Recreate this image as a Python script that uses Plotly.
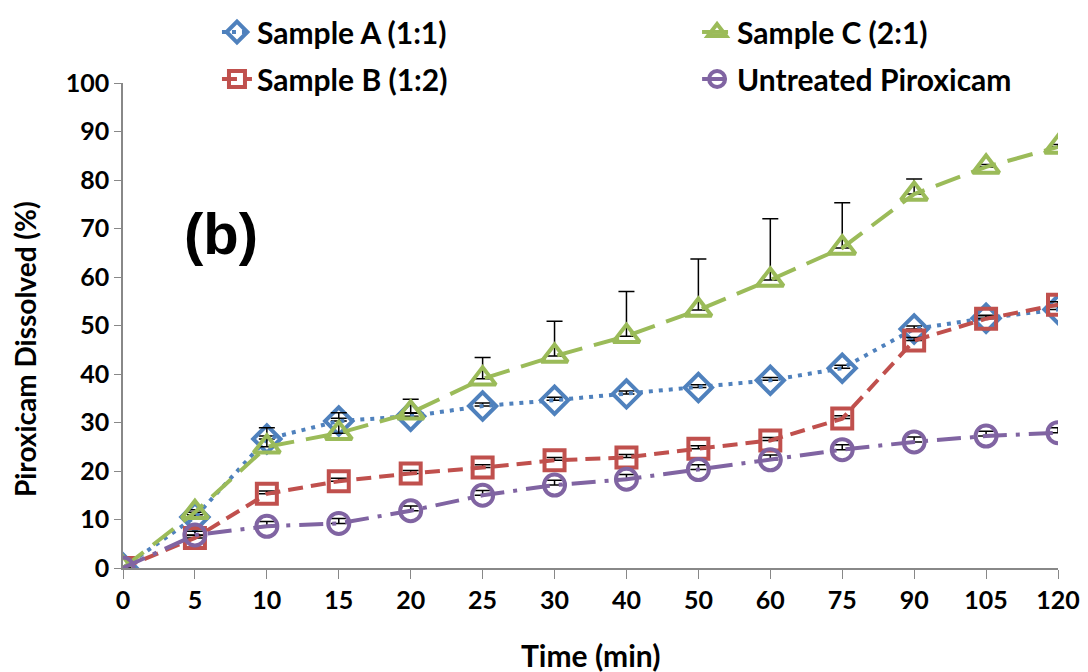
import plotly.graph_objects as go

time_labels = ["0", "5", "10", "15", "20", "25", "30", "40", "50", "60", "75", "90", "105", "120"]
sample_a = [0, 10.5, 26.6, 30.3, 31.3, 33.4, 34.6, 35.9, 37.2, 38.7, 41.2, 49.3, 51.5, 53.3]
sample_b = [0, 6.2, 15.3, 17.9, 19.5, 20.7, 22.2, 22.8, 24.6, 26.3, 30.8, 46.9, 51.4, 54.3]
sample_c = [0, 11.5, 25.0, 27.8, 32.0, 39.0, 43.7, 47.8, 53.2, 59.4, 66.0, 77.1, 82.7, 86.8]
untreated = [0, 6.8, 8.6, 9.2, 11.8, 15.0, 17.1, 18.3, 20.3, 22.3, 24.4, 26.0, 27.2, 27.9]
err_a = [0, 0.5, 0.6, 0.6, 0.6, 0.6, 0.6, 0.6, 0.6, 0.6, 0.6, 0.6, 0.6, 0.6]
err_b = [0, 0.5, 0.6, 0.6, 0.6, 0.6, 0.6, 0.6, 0.6, 0.6, 0.6, 0.6, 0.6, 0.6]
err_c = [0, 0.5, 3.9, 4.2, 2.8, 4.4, 7.2, 9.2, 10.5, 12.6, 9.3, 3.1, 0.5, 0.5]
err_u = [0, 0.8, 1.0, 1.0, 1.0, 1.0, 1.0, 1.0, 1.0, 1.0, 1.0, 1.0, 1.0, 1.0]

FONT = "Lato, 'Open Sans', sans-serif"

series = [
    ("Sample A (1:1)", sample_a, err_a, "#4F81BD", "4px,6px", "diamond-open", 21, "legend"),
    ("Sample B (1:2)", sample_b, err_b, "#C0504D", "15px,8px", "square-open", 20, "legend2"),
    ("Sample C (2:1)", sample_c, err_c, "#9BBB59", "26px,12px", "triangle-up-open", 23, "legend3"),
    ("Untreated Piroxicam", untreated, err_u, "#8064A2", "24px,9px,4px,9px", "circle-open", 21, "legend4"),
]

fig = go.Figure()
for name, vals, err, color, dash, sym, size, lg in series:
    fig.add_trace(go.Scatter(
        x=time_labels, y=vals, name=name, mode="lines+markers",
        line=dict(color=color, width=4, dash=dash),
        marker=dict(symbol=sym, size=size, color=color, line=dict(width=4, color=color)),
        error_y=dict(type="data", array=err, arrayminus=[0] * len(err), symmetric=False,
                     color="black", thickness=1.5, width=8),
        legend=lg,
    ))

legend_common = dict(font=dict(family=FONT, size=30, color="black", weight="bold"),
                     bgcolor="rgba(0,0,0,0)", xanchor="left")
# top row: container-referenced, horizontal (reserves only space above its bottom edge)
top_row = dict(legend_common, xref="container", yref="container", orientation="h", yanchor="middle")
# second row: paper-referenced, hanging from its top edge
second_row = dict(legend_common, yanchor="top")
fig.update_layout(
    legend={**top_row, "x": 0.1935, "y": 0.9639},
    legend3={**top_row, "x": 0.638, "y": 0.9639},
    legend2={**second_row, "x": 0.1005, "y": 1.0619},
    legend4={**second_row, "x": 0.614, "y": 1.0619},
)

fig.add_annotation(text="<b>(b)</b>", x=0.105, y=0.69, xref="paper", yref="paper",
                   xanchor="center", yanchor="middle", showarrow=False,
                   font=dict(family="Liberation Sans, Arial, sans-serif", size=58, color="black"))
fig.add_annotation(text="Piroxicam Dissolved (%)", x=-0.1048, y=0.4515, xref="paper", yref="paper",
                   xanchor="center", yanchor="middle", showarrow=False, textangle=-90,
                   font=dict(family=FONT, size=28, color="black", weight="bold"))
fig.add_annotation(text="Time (min)", x=0.5, y=-0.1794, xref="paper", yref="paper",
                   xanchor="center", yanchor="middle", showarrow=False,
                   font=dict(family=FONT, size=30, color="black", weight="bold"))

fig.update_layout(
    width=1080, height=664,
    margin=dict(l=115, r=30, t=75, b=104),
    plot_bgcolor="white", paper_bgcolor="white",
    showlegend=True,
    xaxis=dict(type="category", range=[0, 13], showgrid=False, zeroline=False,
               showline=True, linecolor="#888888", linewidth=1.5, automargin=False,
               ticks="outside", ticklen=9, tickcolor="#888888",
               tickfont=dict(family=FONT, size=25, color="black", weight="bold")),
    yaxis=dict(range=[0, 100], dtick=10, showgrid=False, zeroline=False,
               showline=True, linecolor="#888888", linewidth=1.5, automargin=False,
               ticks="outside", ticklen=7, tickcolor="#888888",
               tickfont=dict(family=FONT, size=25, color="black", weight="bold")),
)

fig.write_html("out.html")
